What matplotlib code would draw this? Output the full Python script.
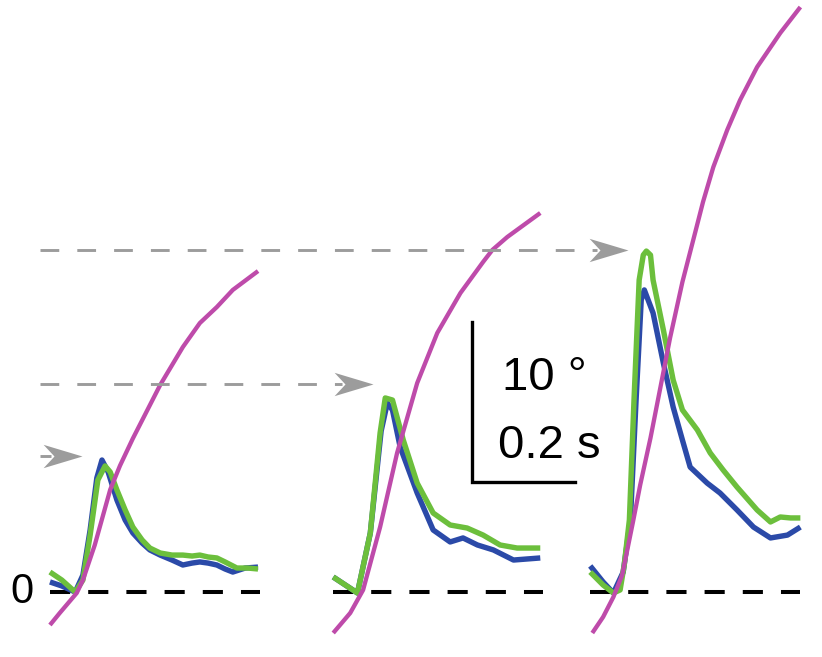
"""Peak traces for three step sizes, with magenta angle trace, scale bar."""

import numpy as np
import matplotlib.pyplot as plt
from matplotlib.path import Path

plt.rcParams["font.family"] = ["Liberation Sans", "DejaVu Sans"]
plt.rcParams["lines.scale_dashes"] = False

# time in ms from each trace onset, angle in degrees
p1_mag_t = [0, 19, 52, 64, 87, 117, 136, 161, 214, 258, 291, 324, 355, 404]
p1_mag = [-2.06, -1.31, -0.06, 0.75, 2.94, 6.4, 7.9, 9.6, 12.94, 15.31, 16.81, 17.81, 18.88, 20.06]
p1_blue_t = [0, 23, 49, 64, 78, 91, 101, 113, 130, 146, 161, 179, 194, 214, 237, 258, 276, 291,
             307, 324, 340, 355, 379, 404]
p1_blue = [0.63, 0.38, 0, 1.06, 3.88, 7.13, 8.25, 7.5, 5.75, 4.5, 3.69, 3.06, 2.63, 2.31, 2.0, 1.69,
           1.81, 1.88, 1.81, 1.69, 1.44, 1.25, 1.5, 1.56]
p1_green_t = [0, 23, 49, 64, 78, 93, 107, 117, 130, 146, 161, 179, 194, 214, 237, 258, 276, 291,
              307, 324, 340, 363, 384, 404]
p1_green = [1.25, 0.75, 0, 0.75, 3.56, 7.0, 7.88, 7.5, 6.38, 5.13, 4.06, 3.25, 2.75, 2.44, 2.31,
            2.31, 2.25, 2.31, 2.19, 2.13, 1.88, 1.5, 1.5, 1.44]

p2_mag_t = [0, 33, 58, 91, 124, 163, 202, 247, 291, 309, 338, 402]
p2_mag = [-2.56, -1.31, 0.13, 4.06, 8.69, 13.06, 16.19, 18.69, 20.63, 21.38, 22.19, 23.69]
p2_blue_t = [0, 47, 72, 93, 105, 115, 130, 163, 194, 227, 252, 280, 311, 350, 402]
p2_blue = [0.94, -0.06, 3.69, 10.06, 11.81, 11.38, 9.06, 6.19, 3.88, 3.13, 3.38, 2.94, 2.63, 2.0, 2.13]
p2_green_t = [0, 47, 72, 91, 101, 115, 136, 163, 194, 227, 260, 291, 324, 357, 402]
p2_green = [0.94, -0.06, 3.69, 9.94, 12.13, 12.0, 9.5, 6.81, 4.94, 4.19, 4.0, 3.56, 2.94, 2.75, 2.75]

p3_mag_t = [4, 25, 45, 62, 83, 97, 117, 136, 155, 179, 204, 219, 239, 266, 291, 324, 369, 408]
p3_mag = [-2.56, -1.56, -0.31, 1.06, 4.38, 6.69, 9.63, 12.75, 15.88, 19.38, 22.5, 24.38, 26.56,
          28.88, 30.75, 32.81, 34.94, 36.56]
p3_blue_t = [0, 25, 45, 64, 78, 89, 99, 105, 122, 142, 161, 179, 194, 227, 252, 285, 317, 350,
             383, 408]
p3_blue = [1.63, 0.63, -0.06, 1.25, 4.5, 12.0, 18.25, 18.88, 17.44, 14.31, 11.56, 9.5, 7.81, 6.81,
           6.19, 5.13, 4.06, 3.38, 3.56, 4.06]
p3_green_t = [0, 25, 45, 58, 66, 76, 85, 95, 103, 109, 117, 122, 142, 161, 179, 208, 233, 258,
              285, 324, 350, 369, 389, 408]
p3_green = [1.25, 0.44, -0.06, 0.13, 1.69, 4.5, 12.0, 19.5, 21.06, 21.31, 21.06, 19.5, 16.38,
            13.25, 11.38, 10.13, 8.69, 7.63, 6.56, 5.13, 4.38, 4.69, 4.63, 4.63]

panel_onset = [97, 647, 1146]        # ms, where each trace block starts
zero_len = 408                       # ms, length of the dashed zero line
peak_levels = [8.5, 13.0, 21.4]      # deg, grey reference lines
arrow_tips = [159, 724, 1219]        # ms
scale_deg, scale_ms = 10, 200

MAG = "#BE4BAA"
BLUE = "#2B4AA8"
GREEN = "#6CBF3C"
GREY = "#9C9C9C"

fig = plt.figure(figsize=(8.22, 6.57), dpi=100)
ax = fig.add_axes([0, 0, 1, 1])
ax.set_xlim(0, 1596)
ax.set_ylim(-4.06, 37.0)
ax.axis("off")

panels = [
    (p1_mag_t, p1_mag, p1_blue_t, p1_blue, p1_green_t, p1_green),
    (p2_mag_t, p2_mag, p2_blue_t, p2_blue, p2_green_t, p2_green),
    (p3_mag_t, p3_mag, p3_blue_t, p3_blue, p3_green_t, p3_green),
]

for x0, (mt, m, bt, b, gt, g) in zip(panel_onset, panels):
    ax.plot([x0, x0 + zero_len], [0, 0], color="black", lw=2.9, dashes=(14.5, 13))
    ax.plot(np.array(bt) + x0, b, color=BLUE, lw=3.9, solid_joinstyle="round",
            solid_capstyle="butt")
    ax.plot(np.array(gt) + x0, g, color=GREEN, lw=3.9, solid_joinstyle="round",
            solid_capstyle="butt")
    ax.plot(np.array(mt) + x0, m, color=MAG, lw=3.1, solid_joinstyle="round",
            solid_capstyle="butt")

# grey reference lines with notched arrowheads
head = Path([(0, 0), (-1, 0.3), (-0.72, 0), (-1, -0.3), (0, 0)],
            [Path.MOVETO, Path.LINETO, Path.LINETO, Path.LINETO, Path.CLOSEPOLY])
for lvl, tip in zip(peak_levels, arrow_tips):
    ax.plot([78, tip - 60], [lvl, lvl], color=GREY, lw=2.1, dashes=(13.5, 13))
    ax.plot([tip], [lvl], marker=head, markersize=56, color=GREY, mec="none")

# scale bar
sx, sy = 917, 6.875
ax.plot([sx, sx, sx + scale_ms], [sy + scale_deg, sy, sy], color="black", lw=2.4,
        solid_joinstyle="miter")
ax.text(974, 13.4, "10 °", fontsize=34, va="center", ha="left")
ax.text(966, 9.1, "0.2 s", fontsize=34, va="center", ha="left")
ax.text(43, 0, "0", fontsize=30, va="center", ha="center")

fig.savefig("out.png", dpi=100)
